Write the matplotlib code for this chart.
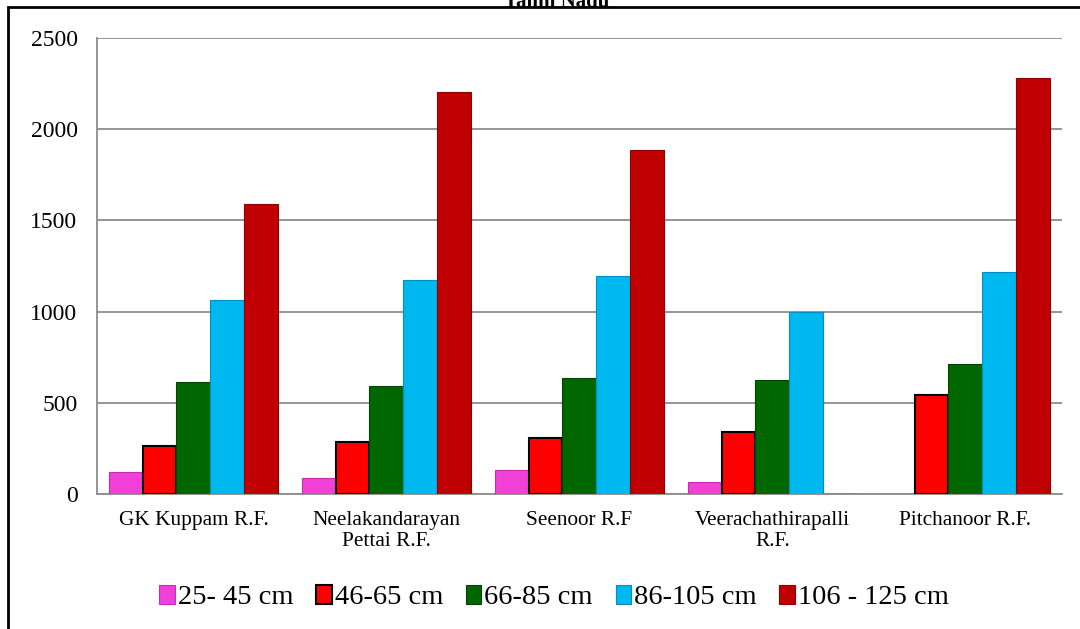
import matplotlib
matplotlib.use("Agg")
import matplotlib.pyplot as plt
import numpy as np
from matplotlib.patches import Rectangle

plt.rcParams['font.family'] = ['Liberation Serif', 'DejaVu Serif']

categories = ["GK Kuppam R.F.", "Neelakandarayan\nPettai R.F.", "Seenoor R.F",
              "Veerachathirapalli\nR.F.", "Pitchanoor R.F."]
series_labels = ["25- 45 cm", "46-65 cm", "66-85 cm", "86-105 cm", "106 - 125 cm"]
s_25_45 = [120, 88, 132, 66, 0]
s_46_65 = [263, 285, 307, 340, 543]
s_66_85 = [614, 592, 636, 625, 713]
s_86_105 = [1063, 1173, 1195, 998, 1217]
s_106_125 = [1590, 2204, 1886, 0, 2281]
yticks = [0, 500, 1000, 1500, 2000, 2500]

series = [s_25_45, s_46_65, s_66_85, s_86_105, s_106_125]
colors = ["#F040D8", "#FF0000", "#006600", "#00B8F0", "#C00000"]
edges = ["#C030B0", "#000000", "#004400", "#0090C0", "#900000"]
lws = [0.8, 1.5, 0.8, 0.8, 0.8]

fig = plt.figure(figsize=(10.8, 6.29), dpi=100)
ax = fig.add_axes([0.0898, 0.2146, 0.8935, 0.725])

x = np.arange(len(categories))
w = 0.176
handles = []
for i, (vals, c, ec, lw) in enumerate(zip(series, colors, edges, lws)):
    off = (i - 2) * w
    b = ax.bar(x + off, vals, width=w, color=c, edgecolor=ec, linewidth=lw,
               label=series_labels[i], zorder=3)
    handles.append(b)

ax.set_xlim(-0.5, len(categories) - 0.5)
ax.set_ylim(0, 2500)
ax.set_yticks(yticks)
ax.set_yticklabels([str(t) for t in yticks], fontsize=17)
ax.set_xticks(x)
ax.set_xticklabels(categories, fontsize=15.3, linespacing=1.2)
ax.tick_params(axis='x', length=0, pad=12)
ax.tick_params(axis='y', length=0, pad=14)
ax.yaxis.grid(True, color="#8C8C8C", linewidth=1.3, zorder=0)
ax.set_axisbelow(True)
for s in ['top', 'right']:
    ax.spines[s].set_visible(False)
for s in ['left', 'bottom']:
    ax.spines[s].set_color("#8C8C8C")
    ax.spines[s].set_linewidth(1.3)

leg = fig.legend(handles=handles, labels=series_labels, loc='center',
                 bbox_to_anchor=(0.513, 0.050), ncol=5, frameon=False,
                 fontsize=20.5, handlelength=0.55, handleheight=0.65,
                 handletextpad=0.1, columnspacing=0.8)

# outer chart frame
fig.patches.append(Rectangle((8 / 1080, -0.01), 1.1, 1 - 7 / 629 + 0.01,
                             transform=fig.transFigure, fill=False,
                             edgecolor='black', linewidth=2))
fig.text(0.515, 1 - 2 / 629, "Tamil Nadu", ha='center', va='center',
         fontsize=15, fontweight='bold')

fig.savefig("out.png", dpi=100)
